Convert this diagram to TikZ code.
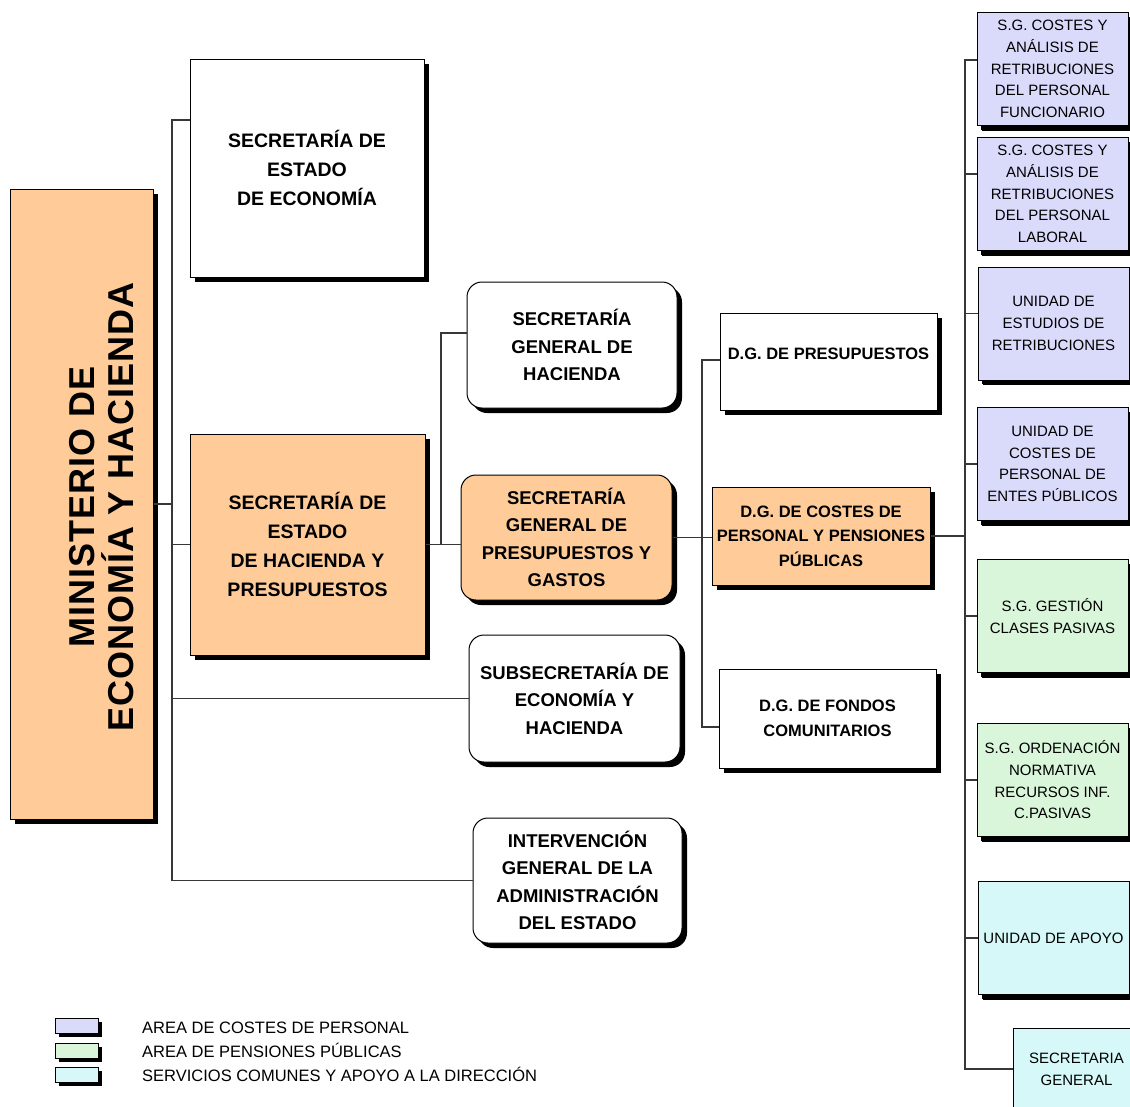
\documentclass[tikz,border=0pt]{standalone}
\usepackage{fontspec}
\setmainfont{Liberation Sans}
\usepackage{tikz}
\usetikzlibrary{shadows,calc}
\definecolor{org_peach}{RGB}{255, 204, 153}
\definecolor{area_cost}{RGB}{218, 218, 250}
\definecolor{area_pens}{RGB}{218, 246, 218}
\definecolor{area_serv}{RGB}{214, 248, 248}
\definecolor{wire_grey}{RGB}{55, 55, 55}
\tikzstyle{se}=[rectangle,fill=white,draw=black,line width=1pt,inner sep=2pt,
  align=center,font=\bfseries\fontsize{19.5}{29}\selectfont,
  drop shadow={shadow xshift=5pt,shadow yshift=-5pt,fill=black,opacity=1}]
\tikzstyle{sg}=[se,rounded corners=15pt,font=\bfseries\fontsize{18.5}{27.5}\selectfont]
\tikzstyle{dg}=[se,font=\bfseries\fontsize{16.5}{24.5}\selectfont]
\tikzstyle{un}=[se,line width=0.8pt,minimum width=151pt,minimum height=113pt,
  font=\fontsize{15}{21.7}\selectfont,
  drop shadow={shadow xshift=4pt,shadow yshift=-4pt,fill=black,opacity=1}]
\tikzstyle{leg}=[rectangle,draw=black,line width=0.8pt,minimum width=43pt,minimum height=15pt,
  drop shadow={shadow xshift=3.5pt,shadow yshift=-3.5pt,fill=black,opacity=1}]
\tikzstyle{legtext}=[anchor=west,inner sep=0pt,text height=12pt,text depth=0pt,
  font=\fontsize{16.5}{20}\selectfont]
\tikzstyle{wire}=[draw=wire_grey,line width=1.4pt]
\tikzstyle{none}=[]

\begin{document}
\begin{tikzpicture}[x=1pt,y=-1pt]
  \useasboundingbox (0,0) rectangle (1130,1106);
		\node [style=se,fill=org_peach,minimum width=143pt,minimum height=630pt] (0) at (81.5,504) {};
		\node [style=none,rotate=90,align=center,font=\bfseries\fontsize{36}{39}\selectfont\addfontfeature{LetterSpace=3}] (1) at (102,507) {MINISTERIO DE\\ECONOMÍA Y HACIENDA};
		\node [style=se,minimum width=234pt,minimum height=218pt] (2) at (307,168) {SECRETARÍA DE\\ESTADO\\DE ECONOMÍA};
		\node [style=se,fill=org_peach,minimum width=235pt,minimum height=221pt] (3) at (307.5,544.5) {SECRETARÍA DE\\ESTADO\\DE HACIENDA Y\\PRESUPUESTOS};
		\node [style=sg,minimum width=210pt,minimum height=126pt] (4) at (572,345) {SECRETARÍA\\GENERAL DE\\HACIENDA};
		\node [style=sg,fill=org_peach,minimum width=211pt,minimum height=125pt] (5) at (566.5,537.5) {SECRETARÍA\\GENERAL DE\\PRESUPUESTOS Y\\GASTOS};
		\node [style=sg,minimum width=211pt,minimum height=127pt] (6) at (574.5,698.5) {SUBSECRETARÍA DE\\ECONOMÍA Y\\HACIENDA};
		\node [style=sg,minimum width=209pt,minimum height=125pt] (7) at (577.5,880.5) {INTERVENCIÓN\\GENERAL DE LA\\ADMINISTRACIÓN\\DEL ESTADO};
		\node [style=dg,minimum width=217pt,minimum height=97pt] (8) at (828.5,361.5) {\raisebox{2pt}[0pt][0pt]{D.G. DE PRESUPUESTOS}};
		\node [style=dg,fill=org_peach,minimum width=218pt,minimum height=98pt] (9) at (821,536) {D.G. DE COSTES DE\\PERSONAL Y PENSIONES\\PÚBLICAS};
		\node [style=dg,minimum width=217pt,minimum height=99pt] (10) at (827.5,718.5) {D.G. DE FONDOS\\COMUNITARIOS};
		\node [style=un,fill=area_cost] (11) at (1052.5,69) {S.G. COSTES Y\\ANÁLISIS DE\\RETRIBUCIONES\\DEL PERSONAL\\FUNCIONARIO};
		\node [style=un,fill=area_cost] (12) at (1052.5,194) {S.G. COSTES Y\\ANÁLISIS DE\\RETRIBUCIONES\\DEL PERSONAL\\LABORAL};
		\node [style=un,fill=area_cost] (13) at (1053.5,323.5) {UNIDAD DE\\ESTUDIOS DE\\RETRIBUCIONES};
		\node [style=un,fill=area_cost] (14) at (1052.5,464) {UNIDAD DE\\COSTES DE\\PERSONAL DE\\ENTES PÚBLICOS};
		\node [style=un,fill=area_pens] (15) at (1052.5,616) {S.G. GESTIÓN\\CLASES PASIVAS};
		\node [style=un,fill=area_pens] (16) at (1052.5,780) {S.G. ORDENACIÓN\\NORMATIVA\\RECURSOS INF.\\C.PASIVAS};
		\node [style=un,fill=area_serv] (17) at (1053.5,938) {UNIDAD DE APOYO};
		\node [style=un,fill=area_serv,minimum width=127pt,minimum height=82pt] (18) at (1076.5,1069) {SECRETARIA\\GENERAL};
		\node [style=none] (20) at (172,120) {};
		\node [style=none] (21) at (441,333) {};
		\node [style=none] (22) at (702,360) {};
		\node [style=none] (23) at (702,727) {};
		\node [style=none] (24) at (965,60) {};
		\node [style=none] (25) at (965,1069) {};
		\draw [style=wire] (20.center -| 2.west) to (20.center) |- (7.west);
		\draw [style=wire] (0.east) to (0.east -| 20.center);
		\draw [style=wire] (3.west -| 20.center) to (3.west);
		\draw [style=wire] (6.west -| 20.center) to (6.west);
		\draw [style=wire] (3.east) to (3.east -| 5.west);
		\draw [style=wire] (3.east -| 21.center) to (21.center) to (21.center -| 4.west);
		\draw [style=wire] (5.east) to (5.east -| 9.west);
		\draw [style=wire] (22.center -| 8.west) to (22.center) to (23.center) to (23.center -| 10.west);
		\draw [style=wire] (9.east) to (9.east -| 24.center);
		\draw [style=wire] (24.center -| 11.west) to (24.center) to (25.center) to (18.west);
		\foreach \n/\s in {12/20pt,13/10pt,14/0pt,15/0pt,16/0pt,17/0pt}
			\draw [style=wire] ([yshift=\s]\n.west) to ([yshift=\s]\n.west -| 24.center);
		\node [style=leg,fill=area_cost] (30) at (76.5,1026) {};
		\node [style=leg,fill=area_pens] (31) at (76.5,1051) {};
		\node [style=leg,fill=area_serv] (32) at (76.5,1075) {};
		\node [style=legtext] (33) at (142,1027) {AREA DE COSTES DE PERSONAL};
		\node [style=legtext] (34) at (142,1051) {AREA DE PENSIONES PÚBLICAS};
		\node [style=legtext] (35) at (142,1075) {SERVICIOS COMUNES Y APOYO A LA DIRECCIÓN};
\end{tikzpicture}
\end{document}
